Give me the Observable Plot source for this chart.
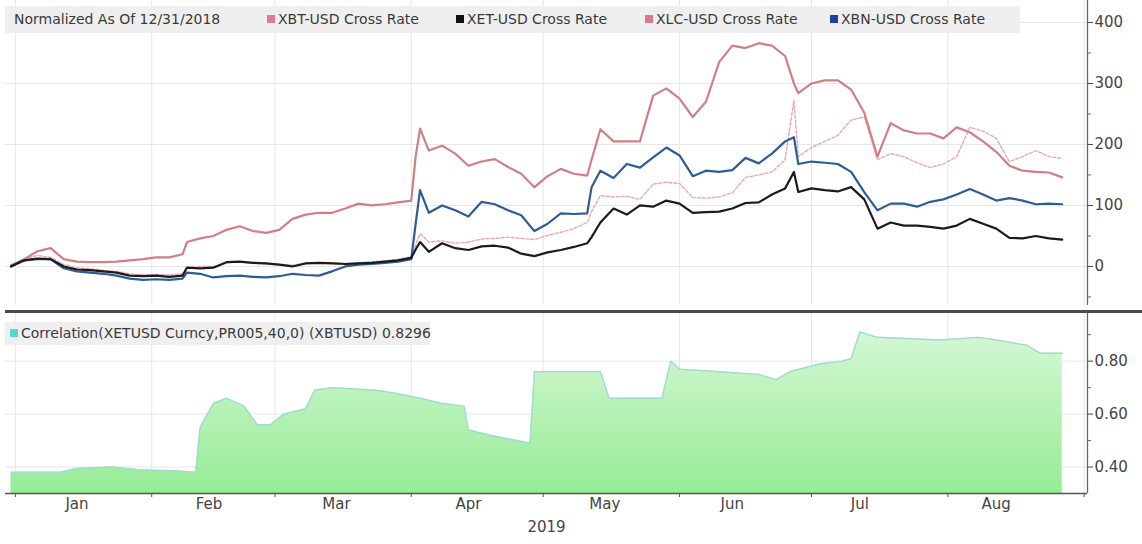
<!DOCTYPE html>
<html><head><meta charset="utf-8">
<script src="https://cdn.jsdelivr.net/npm/d3@7"></script>
<script src="https://cdn.jsdelivr.net/npm/@observablehq/plot@0.6"></script>
<style>
body{margin:0;background:#fff;font-family:"DejaVu Sans",sans-serif;}
#wrap{position:relative;width:1142px;height:544px;overflow:hidden;background:#fff;}
#top,#bot{position:absolute;left:0;}
#top{top:0} #bot{top:313px}
.sep{position:absolute;left:5px;top:310px;width:1137px;height:3px;background:#4a4a4a;}
.band{position:absolute;background:#efefef;}
.leg{position:absolute;font-size:14px;color:#3a3a3a;white-space:nowrap;line-height:16px;}
.sw{position:absolute;width:8px;height:8px;}
</style></head><body>
<div id="wrap">
  <div id="top"></div>
  <div id="bot"></div>
  <div class="sep"></div>
  <div class="band" style="left:5px;top:6px;width:1015px;height:27px"></div>
  <div class="leg" style="left:14px;top:11px">Normalized As Of 12/31/2018</div>
  <div class="sw" style="left:267px;top:15px;background:#e07b8c"></div>
  <div class="leg" style="left:278px;top:11px">XBT-USD Cross Rate</div>
  <div class="sw" style="left:456px;top:15px;background:#111"></div>
  <div class="leg" style="left:467px;top:11px">XET-USD Cross Rate</div>
  <div class="sw" style="left:645px;top:15px;background:#d9788f"></div>
  <div class="leg" style="left:656px;top:11px">XLC-USD Cross Rate</div>
  <div class="sw" style="left:830px;top:15px;background:#1c3fa8"></div>
  <div class="leg" style="left:841px;top:11px">XBN-USD Cross Rate</div>
  <div class="band" style="left:5px;top:322px;width:425px;height:23px"></div>
  <div class="sw" style="left:10px;top:329px;background:#55d6d6"></div>
  <div class="leg" style="left:21px;top:325px">Correlation(XETUSD Curncy,PR005,40,0) (XBTUSD) 0.8296</div>
</div>
<script>
const dates = [
 "2018-12-31","2019-01-03","2019-01-06","2019-01-09","2019-01-12","2019-01-15","2019-01-18","2019-01-21","2019-01-24","2019-01-27","2019-01-30",
 "2019-02-02","2019-02-05","2019-02-08","2019-02-09","2019-02-12","2019-02-15","2019-02-18","2019-02-21","2019-02-24","2019-02-27",
 "2019-03-02","2019-03-05","2019-03-08","2019-03-11","2019-03-14","2019-03-17","2019-03-20","2019-03-23","2019-03-26","2019-03-29",
 "2019-04-01","2019-04-02","2019-04-03","2019-04-05","2019-04-08","2019-04-11","2019-04-14","2019-04-17","2019-04-20","2019-04-23","2019-04-26","2019-04-29",
 "2019-05-02","2019-05-05","2019-05-08","2019-05-11","2019-05-12","2019-05-14","2019-05-17","2019-05-20","2019-05-23","2019-05-26","2019-05-29",
 "2019-06-01","2019-06-04","2019-06-07","2019-06-10","2019-06-13","2019-06-16","2019-06-19","2019-06-22","2019-06-25","2019-06-27","2019-06-28",
 "2019-07-01","2019-07-04","2019-07-07","2019-07-10","2019-07-13","2019-07-16","2019-07-19","2019-07-22","2019-07-25","2019-07-28","2019-07-31",
 "2019-08-03","2019-08-06","2019-08-09","2019-08-12","2019-08-15","2019-08-18","2019-08-21","2019-08-24","2019-08-27"
];
const xbt = [
 2,12,25,30,12,8,7,7,8,10,12,
 15,15,20,40,46,50,60,66,58,55,
 60,78,85,88,88,95,103,100,102,105,
 108,180,226,190,198,185,165,172,176,163,152,130,
 148,160,152,149,175,225,205,205,205,280,292,
 275,245,270,335,362,358,366,362,345,300,284,
 300,305,305,290,252,180,235,223,218,218,210,
 228,220,205,188,165,157,155,154,146
];
const xet = [
 0,10,13,12,0,-5,-6,-8,-10,-15,-16,
 -15,-17,-15,-2,-3,-2,7,8,6,5,
 3,0,5,6,5,4,5,6,8,10,
 14,28,40,24,38,30,27,33,34,31,21,17,
 23,27,32,38,48,72,95,85,100,98,108,
 103,88,89,90,95,104,105,118,128,155,122,
 128,125,123,130,110,62,72,67,67,65,62,
 67,78,70,62,47,46,50,46,44
];
const xlc = [
 0,12,18,15,3,-2,-4,-6,-8,-12,-14,
 -13,-14,-12,-2,0,0,6,7,5,4,
 3,2,5,6,6,5,6,8,9,12,
 16,35,54,40,42,38,40,45,46,48,46,44,
 51,56,62,72,90,116,114,115,110,135,138,
 136,113,112,114,121,146,150,155,175,272,180,
 195,205,215,240,245,175,185,180,170,162,168,
 180,228,222,210,172,180,190,180,177
];
const xbn = [
 0,10,12,12,-3,-8,-10,-12,-15,-20,-22,
 -21,-22,-20,-10,-12,-18,-16,-15,-17,-18,
 -16,-12,-14,-15,-8,0,3,4,6,8,
 12,70,125,88,100,92,82,106,102,92,84,58,
 70,87,86,87,130,157,145,168,162,179,195,
 182,148,157,155,158,178,169,185,205,212,168,
 172,170,168,155,122,92,103,103,98,106,110,
 118,127,118,108,112,108,102,103,102
];
const corrDates = [
 "2018-12-31","2019-01-11","2019-01-15","2019-01-23","2019-01-29","2019-02-07","2019-02-11","2019-02-12","2019-02-15","2019-02-18",
 "2019-02-22","2019-02-25","2019-02-28","2019-03-03","2019-03-08","2019-03-10","2019-03-14","2019-03-24","2019-03-28","2019-04-03",
 "2019-04-08","2019-04-13","2019-04-14","2019-04-19","2019-04-28","2019-04-29","2019-05-05","2019-05-14","2019-05-16","2019-05-28",
 "2019-05-30","2019-06-01","2019-06-10","2019-06-19","2019-06-23","2019-06-26","2019-07-03","2019-07-08","2019-07-10","2019-07-12",
 "2019-07-16","2019-07-30","2019-08-08","2019-08-12","2019-08-19","2019-08-22","2019-08-27"
];
const corrValues = [
 0.38,0.38,0.395,0.40,0.39,0.385,0.38,0.55,0.64,0.66,
 0.63,0.56,0.56,0.60,0.62,0.69,0.70,0.69,0.68,0.66,
 0.64,0.63,0.54,0.52,0.49,0.76,0.76,0.76,0.66,0.66,
 0.80,0.77,0.76,0.75,0.73,0.76,0.79,0.80,0.81,0.91,
 0.89,0.88,0.89,0.88,0.86,0.83,0.83
];
const priceTicks = [0,100,200,300,400];
const priceMinor = [-50,50,150,250,350];
const corrTicks = [0.40,0.60,0.80];
const corrMinor = [0.50,0.70,0.90];
const monthStarts = ["2019-01-01","2019-02-01","2019-03-01","2019-04-01","2019-05-01","2019-06-01","2019-07-01","2019-08-01","2019-09-01"];
const monthLabelDates = ["2019-01-15","2019-02-14","2019-03-15","2019-04-14","2019-05-15","2019-06-13","2019-07-12","2019-08-12"];
const yearLabel = ["2019"];

const parse = d3.utcParse("%Y-%m-%d");
const X_DOMAIN = [new Date("2018-12-29T18:00:00Z"), new Date("2019-09-01T18:00:00Z")];
const D = dates.map(parse);
const ser = vals => D.map((d, i) => ({date: d, value: vals[i]}));
const grid = "#e6e6e6";
const axisCol = "#5d6873";

const topChart = Plot.plot({
  width: 1142, height: 311,
  marginLeft: 5, marginRight: 55, marginTop: 0, marginBottom: 6,
  style: {background: "transparent", fontFamily: "DejaVu Sans"},
  x: {type: "utc", domain: X_DOMAIN, axis: null},
  y: {domain: [-64, 436], axis: null},
  marks: [
    Plot.gridX(monthStarts.map(parse), {stroke: grid, strokeOpacity: 1}),
    Plot.gridY(priceTicks, {stroke: grid, strokeOpacity: 1}),
    Plot.lineY(ser(xlc), {x: "date", y: "value", stroke: "#eba6b2", strokeWidth: 1.4, strokeDasharray: "3,2"}),
    Plot.lineY(ser(xbt), {x: "date", y: "value", stroke: "#d27f84", strokeWidth: 2.2}),
    Plot.lineY(ser(xbn), {x: "date", y: "value", stroke: "#2e5d94", strokeWidth: 2.2}),
    Plot.lineY(ser(xet), {x: "date", y: "value", stroke: "#1b1b1b", strokeWidth: 2.2}),
    Plot.ruleX([X_DOMAIN[1]], {stroke: axisCol, strokeWidth: 1.3}),
    Plot.axisY(priceMinor, {anchor: "right", tickSize: 3, tickFormat: () => "", color: axisCol, label: null}),
    Plot.axisY(priceTicks, {anchor: "right", tickSize: 5, tickPadding: 2, fontSize: 15, color: "#444", tickFormat: d => String(d), label: null})
  ]
});
document.getElementById("top").appendChild(topChart);

const C = corrDates.map((d, i) => ({date: parse(d), value: corrValues[i]}));
const botChart = Plot.plot({
  width: 1142, height: 231,
  marginLeft: 5, marginRight: 55, marginTop: 0, marginBottom: 51,
  style: {background: "transparent", fontFamily: "DejaVu Sans"},
  x: {type: "utc", domain: X_DOMAIN, axis: null},
  y: {domain: [0.30, 0.98], axis: null},
  marks: [
    Plot.gridX(monthStarts.map(parse), {stroke: grid, strokeOpacity: 1}),
    Plot.gridY(corrTicks, {stroke: grid, strokeOpacity: 1}),
    Plot.areaY(C, {x: "date", y1: 0.30, y2: "value", fill: "url(#corrGrad)"}),
    Plot.lineY(C, {x: "date", y: "value", stroke: "#9fdccf", strokeWidth: 1.4}),
    Plot.ruleX([X_DOMAIN[1]], {stroke: axisCol, strokeWidth: 1.3}),
    Plot.ruleY([0.30], {stroke: "#555", strokeWidth: 1.3}),
    Plot.axisY(corrMinor, {anchor: "right", tickSize: 3, tickFormat: () => "", color: axisCol, label: null}),
    Plot.axisY(corrTicks, {anchor: "right", tickSize: 5, tickPadding: 2, fontSize: 15, color: "#444", tickFormat: d3.format(".2f"), label: null}),
    Plot.axisX(monthStarts.map(parse), {anchor: "bottom", tickSize: 4, tickFormat: () => "", color: "#555", label: null}),
    Plot.axisX(monthLabelDates.map(parse), {anchor: "bottom", tickSize: 0, tickPadding: 5, fontSize: 15, color: "#444", tickFormat: d3.utcFormat("%b"), label: null}),
    Plot.text(yearLabel, {frameAnchor: "bottom", dy: 34, fontSize: 15, fill: "#444", lineAnchor: "middle"})
  ]
});
const defs = d3.select(botChart).insert("defs", ":first-child");
const lg = defs.append("linearGradient").attr("id", "corrGrad").attr("gradientUnits", "userSpaceOnUse")
  .attr("x1", 0).attr("y1", 0).attr("x2", 0).attr("y2", 180);
lg.append("stop").attr("offset", 0).attr("stop-color", "#dcf8dc");
lg.append("stop").attr("offset", 1).attr("stop-color", "#96ec96");
document.getElementById("bot").appendChild(botChart);
</script>
</body></html>
